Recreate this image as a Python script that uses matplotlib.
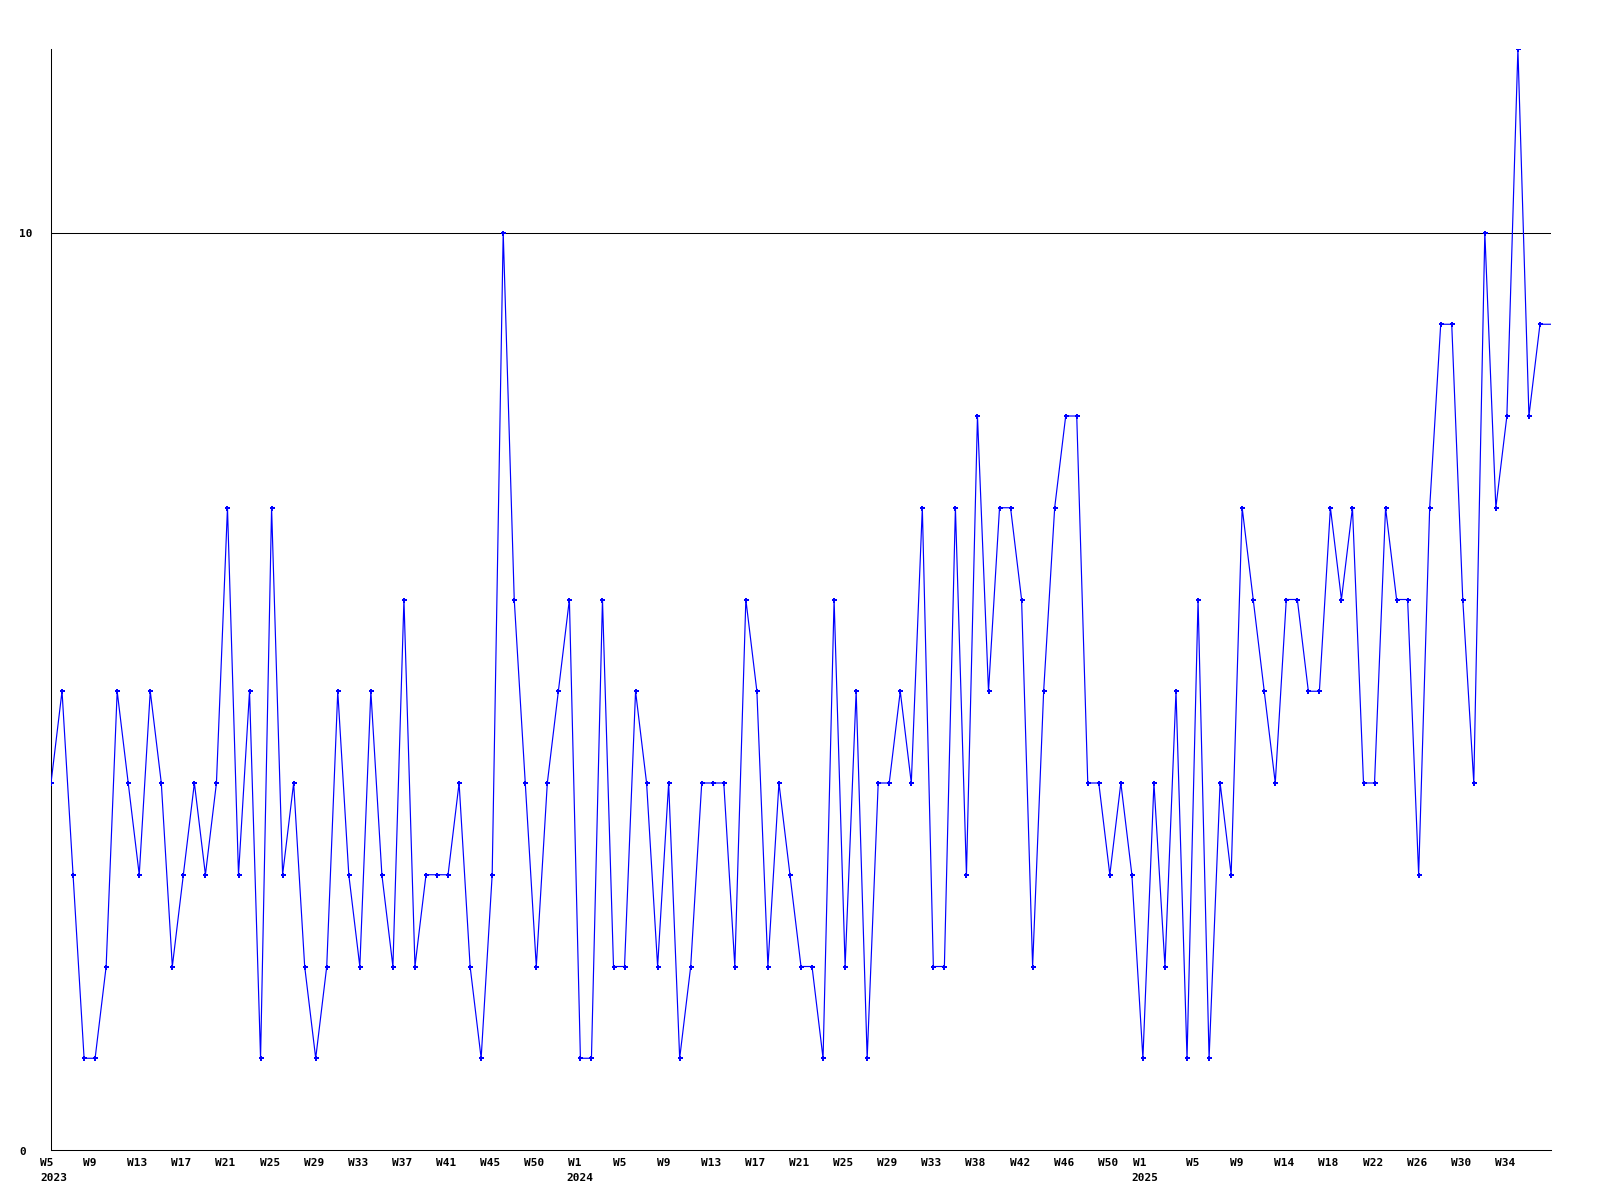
import matplotlib
matplotlib.use("Agg")
import matplotlib.pyplot as plt
from matplotlib.transforms import blended_transform_factory, ScaledTranslation

# weekly values from 2023 W5 to 2025 W37
values = [
    4, 5, 3, 1, 1, 2, 5, 4, 3, 5, 4, 2, 3, 4, 3, 4, 7, 3, 5, 1,
    7, 3, 4, 2, 1, 2, 5, 3, 2, 5, 3, 2, 6, 2, 3, 3, 3, 4, 2, 1,
    3, 10, 6, 4, 2, 4, 5, 6,
    1, 1, 6, 2, 2, 5, 4, 2, 4, 1, 2, 4, 4, 4, 2, 6, 5, 2, 4, 3,
    2, 2, 1, 6, 2, 5, 1, 4, 4, 5, 4, 7, 2, 2, 7, 3, 8, 5, 7, 7,
    6, 2, 5, 7, 8, 8, 4, 4, 3, 4, 3, 1,
    4, 2, 5, 1, 6, 1, 4, 3, 7, 6, 5, 4, 6, 6, 5, 5, 7, 6, 7, 4,
    4, 7, 6, 6, 3, 7, 9, 9, 6, 4, 10, 7, 8, 12, 8, 9, 9,
]

tick_labels = [
    "W5", "W9", "W13", "W17", "W21", "W25", "W29", "W33", "W37", "W41", "W45", "W50",
    "W1", "W5", "W9", "W13", "W17", "W21", "W25", "W29", "W33", "W38", "W42", "W46", "W50",
    "W1", "W5", "W9", "W14", "W18", "W22", "W26", "W30", "W34",
]
year_labels = {0: "2023", 12: "2024", 25: "2025"}

y_ticks = [0, 10]
y_tick_labels = ["0", "10"]

W, H = 1600, 1200
DPI = 100
fig = plt.figure(figsize=(16, 12), dpi=DPI)
ax = fig.add_axes([51 / W, 1 - 1150 / H, 1500 / W, (1150 - 49) / H])

x = list(range(len(values)))
ax.plot(x, values, color="#0000ff", linewidth=0.85,
        marker="P", markersize=3.6, markeredgewidth=0,
        markevery=list(range(len(values) - 1)), zorder=3)
ax.axhline(10, color="black", linewidth=0.75, zorder=2)

ax.set_xlim(0, len(values) - 1)
ax.set_ylim(0, 12)

for s in ["top", "right"]:
    ax.spines[s].set_visible(False)
for s in ["left", "bottom"]:
    ax.spines[s].set_color("black")
    ax.spines[s].set_linewidth(0.75)

ax.set_xticks([])
ax.set_yticks([])

font = dict(fontfamily="DejaVu Sans Mono", fontweight="bold", fontsize=8, color="black")

base = blended_transform_factory(ax.transData, fig.transFigure)
for k, lab in enumerate(tick_labels):
    pos = 4 * k
    nudge = -9 if k == 25 else 0
    if k == 0:
        nudge = 1
    tr = base + ScaledTranslation((-12 + nudge) / DPI, 0, fig.dpi_scale_trans)
    ax.text(pos, 1 - 1166 / H, lab, transform=tr, ha="left", va="baseline",
            clip_on=False, **font)
    if k in year_labels:
        ynudge = 0 if k == 0 else -2
        tr2 = base + ScaledTranslation((-12 + nudge + ynudge) / DPI, 0,
                                       fig.dpi_scale_trans)
        ax.text(pos, 1 - 1181 / H, year_labels[k], transform=tr2, ha="left",
                va="baseline", clip_on=False, **font)

# y tick labels, left-aligned at x ~ 19 px
ytr = blended_transform_factory(fig.transFigure, ax.transData) + \
    ScaledTranslation(0, -4.6 / DPI, fig.dpi_scale_trans)
for v, lab in zip(y_ticks, y_tick_labels):
    ax.text(19.5 / W, v, lab, transform=ytr, ha="left", va="baseline",
            clip_on=False, **font)

fig.savefig("out.png", dpi=DPI, facecolor="white")
